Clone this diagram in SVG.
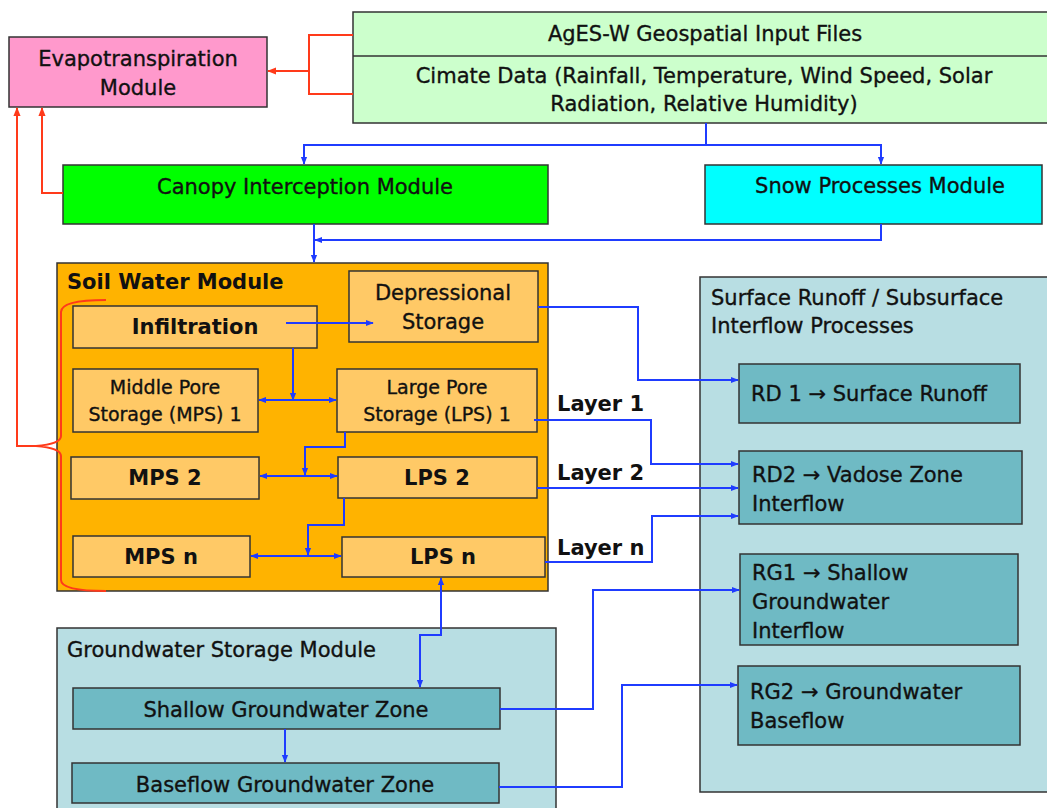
<svg xmlns="http://www.w3.org/2000/svg" width="1047" height="808" viewBox="0 0 1047 808">
<defs>
<style>
text{font-family:"DejaVu Sans","Noto Sans",sans-serif;fill:#111;font-size:21px;stroke:#111;stroke-width:0.35}
.b{font-weight:bold;stroke-width:0}
.c{text-anchor:middle}
.box{stroke:#333;stroke-width:1.5}
.blue{fill:none;stroke:#1f3cff;stroke-width:2}
.red{fill:none;stroke:#ff3a1a;stroke-width:2}
</style>
<marker id="ab" viewBox="0 0 10 10" refX="9" refY="5" markerWidth="8" markerHeight="8" markerUnits="userSpaceOnUse" orient="auto-start-reverse"><path d="M0,1 L10,5 L0,9 z" fill="#1f3cff"/></marker>
<marker id="ar" viewBox="0 0 10 10" refX="9" refY="5" markerWidth="9" markerHeight="9" markerUnits="userSpaceOnUse" orient="auto-start-reverse"><path d="M0,1 L10,5 L0,9 z" fill="#ff3a1a"/></marker>
</defs>
<rect width="1047" height="808" fill="#fff"/>

<g id="evapotranspiration">
<rect class="box" x="9" y="37" width="258" height="70" fill="#ff99cc"/>
<text class="c" x="138" y="66">Evapotranspiration</text>
<text class="c" x="138" y="95">Module</text>
</g>

<g id="ages-input">
<rect class="box" x="353" y="12" width="700" height="111" fill="#ccffcc"/>
<line x1="353" y1="56" x2="1047" y2="56" stroke="#333" stroke-width="1.5"/>
<text class="c" x="705" y="41">AgES-W Geospatial Input Files</text>
<text class="c" x="704" y="83">Cimate Data (Rainfall, Temperature, Wind Speed, Solar</text>
<text class="c" x="704" y="111">Radiation, Relative Humidity)</text>
</g>

<g id="canopy">
<rect class="box" x="63" y="165" width="485" height="59" fill="#00ff00"/>
<text class="c" x="305" y="194">Canopy Interception Module</text>
</g>

<g id="snow">
<rect class="box" x="705" y="165" width="337" height="59" fill="#00ffff"/>
<text class="c" x="880" y="193">Snow Processes Module</text>
</g>

<g id="soil-water-module">
<rect class="box" x="57" y="263" width="491" height="328" fill="#ffb300"/>
<text class="b" x="67" y="289">Soil Water Module</text>
</g>

<g id="depressional">
<rect class="box" x="349" y="271" width="189" height="71" fill="#ffc966"/>
<text class="c" x="443" y="300">Depressional</text>
<text class="c" x="443" y="329">Storage</text>
</g>

<g id="infiltration">
<rect class="box" x="73" y="306" width="244" height="42" fill="#ffc966"/>
<text class="c b" x="195" y="334">Infiltration</text>
</g>

<g id="mps1">
<rect class="box" x="73" y="369" width="185" height="63" fill="#ffc966"/>
<text class="c" x="165" y="394" style="font-size:19px">Middle Pore</text>
<text class="c" x="165" y="421" style="font-size:19px">Storage (MPS) 1</text>
</g>

<g id="lps1">
<rect class="box" x="337" y="369" width="200" height="63" fill="#ffc966"/>
<text class="c" x="437" y="394" style="font-size:19px">Large Pore</text>
<text class="c" x="437" y="421" style="font-size:19px">Storage (LPS) 1</text>
</g>

<g id="mps2">
<rect class="box" x="71" y="457" width="188" height="42" fill="#ffc966"/>
<text class="c b" x="165" y="485">MPS 2</text>
</g>

<g id="lps2">
<rect class="box" x="338" y="457" width="199" height="41" fill="#ffc966"/>
<text class="c b" x="437" y="485">LPS 2</text>
</g>

<g id="mpsn">
<rect class="box" x="73" y="536" width="177" height="41" fill="#ffc966"/>
<text class="c b" x="161" y="564">MPS n</text>
</g>

<g id="lpsn">
<rect class="box" x="342" y="537" width="203" height="40" fill="#ffc966"/>
<text class="c b" x="443" y="564">LPS n</text>
</g>

<g id="surface-runoff-panel">
<rect class="box" x="700" y="277" width="360" height="515" fill="#b8dee3"/>
<text x="711" y="305">Surface Runoff / Subsurface</text>
<text x="711" y="333">Interflow Processes</text>
</g>

<g id="rd1">
<rect class="box" x="739" y="364" width="281" height="59" fill="#6fbac4"/>
<text x="751" y="401">RD 1 → Surface Runoff</text>
</g>

<g id="rd2">
<rect class="box" x="739" y="451" width="283" height="73" fill="#6fbac4"/>
<text x="752" y="482">RD2 → Vadose Zone</text>
<text x="752" y="511">Interflow</text>
</g>

<g id="rg1">
<rect class="box" x="740" y="554" width="278" height="91" fill="#6fbac4"/>
<text x="752" y="580">RG1 → Shallow</text>
<text x="752" y="609">Groundwater</text>
<text x="752" y="638">Interflow</text>
</g>

<g id="rg2">
<rect class="box" x="738" y="666" width="282" height="79" fill="#6fbac4"/>
<text x="750" y="699">RG2 → Groundwater</text>
<text x="750" y="728">Baseflow</text>
</g>

<g id="groundwater-module">
<rect class="box" x="57" y="628" width="499" height="190" fill="#b8dee3"/>
<text x="67" y="657">Groundwater Storage Module</text>
</g>

<g id="shallow-gw">
<rect class="box" x="73" y="688" width="427" height="41" fill="#6fbac4"/>
<text class="c" x="286" y="717">Shallow Groundwater Zone</text>
</g>

<g id="baseflow-gw">
<rect class="box" x="72" y="763" width="427" height="40" fill="#6fbac4"/>
<text class="c" x="285" y="792">Baseflow Groundwater Zone</text>
</g>

<g id="layer-labels">
<text class="b" x="557" y="411">Layer 1</text>
<text class="b" x="557" y="480">Layer 2</text>
<text class="b" x="557" y="555">Layer n</text>
</g>

<g id="connectors">
<path class="red" d="M353,35 H309 V94 H353"/>
<path class="red" d="M309,71 H268" marker-end="url(#ar)"/>
<path class="red" d="M63,193 H42 V108" marker-end="url(#ar)"/>
<path class="red" d="M106,300 Q61,300 61,312 V436 Q61,444 36,446 Q61,448 61,456 V580 Q61,591 106,591"/>
<path class="red" d="M40,446 H17 V108" marker-end="url(#ar)"/>

<path class="blue" d="M706,123 V145"/>
<path class="blue" d="M706,145 H304 V164" marker-end="url(#ab)"/>
<path class="blue" d="M706,145 H881 V164" marker-end="url(#ab)"/>
<path class="blue" d="M314,224 V262" marker-end="url(#ab)"/>
<path class="blue" d="M881,224 V240 H315" marker-end="url(#ab)"/>

<path class="blue" d="M286,323 H373" marker-end="url(#ab)"/>
<path class="blue" d="M293,348 V400" marker-end="url(#ab)"/>
<path class="blue" d="M259,400 H336" marker-start="url(#ab)" marker-end="url(#ab)"/>
<path class="blue" d="M345,432 V447 H305 V475" marker-end="url(#ab)"/>
<path class="blue" d="M260,476 H337" marker-start="url(#ab)" marker-end="url(#ab)"/>
<path class="blue" d="M344,498 V525 H308 V555" marker-end="url(#ab)"/>
<path class="blue" d="M251,556 H341" marker-start="url(#ab)" marker-end="url(#ab)"/>
<path class="blue" d="M441,578 V635 H420 V687" marker-start="url(#ab)" marker-end="url(#ab)"/>
<path class="blue" d="M285,729 V762" marker-end="url(#ab)"/>

<path class="blue" d="M538,307 H638 V380 H738" marker-end="url(#ab)"/>
<path class="blue" d="M534,420 H651 V464 H738" marker-end="url(#ab)"/>
<path class="blue" d="M537,488 H738" marker-end="url(#ab)"/>
<path class="blue" d="M545,562 H652 V516 H738" marker-end="url(#ab)"/>
<path class="blue" d="M500,709 H593 V590 H739" marker-end="url(#ab)"/>
<path class="blue" d="M499,787 H622 V685 H737" marker-end="url(#ab)"/>
</g>
</svg>
